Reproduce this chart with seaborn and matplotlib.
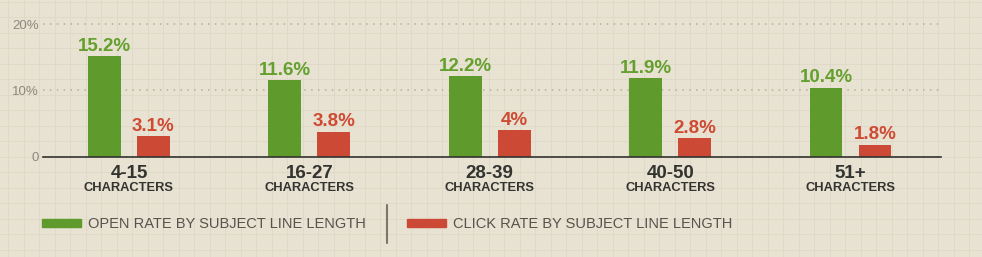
import numpy as np
import pandas as pd
import matplotlib
matplotlib.use("Agg")
import matplotlib.pyplot as plt
import matplotlib.transforms as mtransforms
from matplotlib.lines import Line2D
from matplotlib.patches import Rectangle
import seaborn as sns

# ---- data ----
ranges = ["4-15", "16-27", "28-39", "40-50", "51+"]
sub_label = "CHARACTERS"
open_rate = [15.2, 11.6, 12.2, 11.9, 10.4]
click_rate = [3.1, 3.8, 4.0, 2.8, 1.8]
series = ["OPEN RATE BY SUBJECT LINE LENGTH", "CLICK RATE BY SUBJECT LINE LENGTH"]
y_ticks = [0, 10, 20]
y_tick_labels = ["0", "10%", "20%"]

# ---- style ----
BG = "#e8e2d3"
PAPER_LINE = "#e0d9c7"
GREEN = "#5e9a2c"
RED = "#cc4a35"
GREEN_TXT = "#64a02e"
RED_TXT = "#cf4a33"
DARK = "#333330"
GRAY = "#8c887c"
LEG_TXT = "#55534c"

sns.set_theme(style="white")
plt.rcParams["font.family"] = ["Liberation Sans", "DejaVu Sans"]

df = pd.DataFrame({
    "range": ranges * 2,
    "series": [series[0]] * len(ranges) + [series[1]] * len(ranges),
    "value": open_rate + click_rate,
})

W, H = 982, 257
fig = plt.figure(figsize=(W / 100, H / 100), dpi=100)
fig.patch.set_facecolor(BG)

# graph-paper background
for xp in np.arange(8, W, 15.5):
    fig.add_artist(Line2D([xp / W, xp / W], [0, 1], transform=fig.transFigure,
                          color=PAPER_LINE, lw=0.7, zorder=-10))
for yp in np.arange(1.5, H, 15.5):
    fig.add_artist(Line2D([0, 1], [1 - yp / H, 1 - yp / H], transform=fig.transFigure,
                          color=PAPER_LINE, lw=0.7, zorder=-10))

px_per_unit = 6.62
ax = fig.add_axes([43.3 / W, (H - 156.7) / H, (940.7 - 43.3) / W, 21 * px_per_unit / H])
ax.patch.set_alpha(0)

sns.barplot(data=df, x="range", y="value", hue="series", order=ranges,
            hue_order=series, palette=[GREEN, RED], width=0.543, gap=0.33,
            saturation=1, errorbar=None, legend=False, ax=ax, zorder=3,
            linewidth=0, edgecolor="none")

ax.set_xlim(-0.475, 4.5)
ax.set_ylim(0, 21)
ax.set_xlabel("")
ax.set_ylabel("")
ax.set_xticks(range(len(ranges)))
ax.set_xticklabels([])
ax.tick_params(axis="x", length=0)
ax.set_yticks(y_ticks, y_tick_labels)
ax.tick_params(axis="y", length=0, pad=3, labelsize=9.5, labelcolor=GRAY)

for s in ["top", "right", "left"]:
    ax.spines[s].set_visible(False)
ax.spines["bottom"].set_color(DARK)
ax.spines["bottom"].set_linewidth(1.2)
ax.spines["bottom"].set_zorder(5)

ax.yaxis.grid(True, linestyle=(0, (1, 3.5)), color="#b4af9f", lw=1.1)
ax.set_axisbelow(True)

# value labels
for cont, vals, col in zip(ax.containers, [open_rate, click_rate], [GREEN_TXT, RED_TXT]):
    ax.bar_label(cont, labels=[f"{v:g}%" for v in vals], padding=1.0,
                 color=col, fontsize=13.5, fontweight="bold")

# category labels
tr1 = mtransforms.offset_copy(ax.get_xaxis_transform(), fig=fig, y=-15.1, units="points")
tr2 = mtransforms.offset_copy(ax.get_xaxis_transform(), fig=fig, y=-24.5, units="points")
for i, r in enumerate(ranges):
    ax.text(i, 0, r, transform=tr1, ha="center", va="baseline",
            fontsize=13.5, fontweight="bold", color=DARK)
    ax.text(i, 0, sub_label, transform=tr2, ha="center", va="baseline",
            fontsize=9.3, fontweight="bold", color=DARK)

# legend
fig.add_artist(Rectangle((42 / W, (H - 227) / H), 39 / W, 8 / H,
                         transform=fig.transFigure, color=GREEN))
fig.text(88 / W, (H - 228) / H, series[0], fontsize=10.5, color=LEG_TXT,
         ha="left", va="baseline")
fig.add_artist(Line2D([387 / W, 387 / W], [(H - 243) / H, (H - 205) / H],
                      transform=fig.transFigure, color="#7a776b", lw=1.5))
fig.add_artist(Rectangle((407 / W, (H - 227) / H), 39 / W, 8 / H,
                         transform=fig.transFigure, color=RED))
fig.text(453 / W, (H - 228) / H, series[1], fontsize=10.5, color=LEG_TXT,
         ha="left", va="baseline")

fig.savefig("out.png", dpi=100, facecolor=BG)
